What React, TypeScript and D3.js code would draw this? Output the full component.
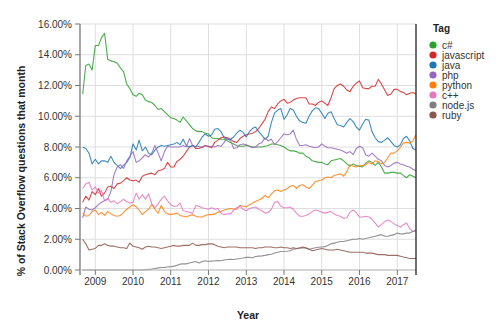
import React from 'react';
import * as d3 from 'd3';

const startMonth = '2008-09';
const tags = ['c#', 'javascript', 'java', 'php', 'python', 'c++', 'node.js', 'ruby'];
const tagColors = ['#2ca02c', '#d62728', '#1f77b4', '#9467bd', '#ff7f0e', '#e377c2', '#7f7f7f', '#8c564b'];
const yTicks = [0, 2, 4, 6, 8, 10, 12, 14, 16];
const xTickYears = [2009, 2010, 2011, 2012, 2013, 2014, 2015, 2016, 2017];

const csharp = [11.45, 13.3, 13.4, 13.0, 14.6, 14.6, 15.1, 15.4, 13.7, 13.6, 13.55, 13.45, 13.15, 12.9, 12.1, 11.8, 11.4, 11.3, 11.5, 11.4, 11.05, 10.95, 10.9, 10.7, 10.45, 10.5, 10.3,
  10.1, 9.9, 9.85, 9.75, 9.6, 9.95, 9.7, 9.45, 9.2, 9.05, 9.0, 9.0, 8.9, 8.85, 8.6, 8.55, 8.55, 8.5, 8.5, 8.4, 8.3, 8.2, 8.1, 8.05,
  8.05, 8.1, 8.05, 8.0, 8.0, 8.0, 8.0, 8.05, 8.1, 8.2, 8.2, 8.15, 8.1, 8.0, 7.85, 7.75, 7.75, 7.7, 7.6, 7.6, 7.4, 7.3, 7.1, 7.05, 7.0, 7.0, 6.9, 6.85, 7.1, 7.15, 7.2, 7.25, 7.1, 6.9, 6.75, 6.9, 6.8, 6.75, 6.7, 6.95, 7.1, 7.0, 6.8, 7.0, 6.7, 6.3, 6.3, 6.35, 6.35, 6.3, 6.3, 6.15, 6.0, 6.2, 6.1, 6.0];

const javascript = [4.4, 4.8, 4.55, 5.1, 4.9, 5.3, 4.8, 5.0, 5.4, 5.45, 5.3, 5.6, 5.65, 5.8, 6.0, 5.85, 5.8, 5.85, 5.7, 6.1, 6.2, 6.25, 6.3, 6.2, 6.45, 6.5, 6.6,
  7.0, 6.7, 6.7, 7.05, 7.2, 7.4, 7.7, 8.0, 8.1, 7.9, 7.9, 8.0, 8.1, 8.05, 7.95, 8.3, 8.45, 8.6, 8.65, 8.6, 8.5, 8.35, 8.3, 8.55,
  8.7, 8.8, 8.85, 8.9, 9.0, 9.2, 9.5, 9.8, 10.3, 10.6, 10.5, 10.8, 11.0, 11.1, 10.85, 10.9, 11.05, 11.15, 11.2, 11.2, 11.2, 10.8, 10.8, 10.7, 10.9, 11.0, 10.85, 10.7, 11.2, 11.8, 12.0, 12.1, 11.95, 11.7, 11.6, 11.95, 12.15, 12.3, 11.85, 11.8, 11.8, 11.95, 11.95, 12.4, 12.1, 11.7, 11.35, 11.45, 11.75, 11.75, 11.6, 11.55, 11.4, 11.5, 11.55, 11.45];

const java = [8.0, 7.9, 7.6, 6.9, 7.2, 6.9, 7.1, 7.1, 7.0, 7.4, 7.0, 6.8, 6.6, 6.8, 7.0, 7.3, 8.2, 7.8, 8.45, 7.75, 8.0, 7.6, 7.5, 7.8, 8.0, 8.1, 8.05,
  8.1, 8.15, 8.2, 8.3, 8.15, 8.5, 8.1, 8.0, 8.1, 8.0, 8.3, 8.65, 8.85, 8.7, 8.8, 9.15, 9.2, 9.0, 8.6, 8.5, 8.5, 8.65, 8.9, 9.1,
  8.95, 8.65, 9.0, 9.2, 9.3, 9.0, 8.75, 8.5, 8.7, 9.6, 10.2, 10.4, 10.5, 9.8, 10.1, 10.5, 10.4, 10.0, 9.7, 9.6, 9.55, 10.0, 10.35, 10.55, 10.5, 10.2, 9.85, 10.2, 10.3, 9.85, 9.45, 9.4, 9.3, 9.6, 9.85, 9.65, 9.3, 9.1, 9.5, 9.8, 9.75, 9.0, 8.6, 8.35, 8.3, 8.45, 8.6, 8.35, 8.1, 8.0, 8.15, 8.55, 8.7, 8.4, 7.9, 7.8];

const php = [3.4, 4.1, 3.95, 3.9, 4.05, 4.25, 4.4, 4.5, 4.6, 5.1, 6.2, 6.7, 6.85, 6.6, 7.1, 7.4, 7.7, 7.0, 7.1, 7.3, 7.5, 7.35, 7.6, 8.1, 7.6, 7.1, 7.7,
  8.05, 8.0, 8.0, 8.0, 8.0, 8.1, 8.0, 8.55, 8.1, 8.0, 8.05, 7.95, 8.1, 8.0, 8.05, 8.0, 8.1, 8.05, 8.3, 8.6, 8.4, 7.9, 7.95, 8.15,
  8.2, 8.15, 8.05, 7.95, 8.0, 8.2, 8.3, 8.6, 8.4, 8.5, 8.15, 8.35, 8.6, 8.85, 8.8, 8.85, 9.1, 8.5, 8.1, 8.1, 8.15, 8.05, 8.0, 7.95, 8.0, 8.2, 8.05, 7.95, 7.95, 7.9, 7.85, 7.8, 7.7, 7.6, 7.7, 7.5, 7.9, 8.05, 7.95, 7.5, 7.4, 7.6, 7.4, 7.2, 7.1, 6.8, 6.7, 6.8, 6.95, 7.0, 6.9, 6.85, 6.75, 6.7, 6.55, 6.45];

const python = [3.7, 3.5, 3.55, 3.8, 3.9, 3.6, 3.75, 3.55, 3.8, 3.65, 3.55, 3.5, 3.55, 3.75, 3.95, 4.1, 4.25, 4.1, 3.9, 3.6, 3.8, 3.95, 4.25, 3.95, 3.7, 4.2, 3.8,
  3.65, 3.6, 3.65, 3.7, 3.55, 3.5, 3.45, 3.55, 3.6, 3.5, 3.45, 3.45, 3.55, 3.6, 3.6, 3.65, 3.75, 3.8, 3.9, 3.95, 4.0, 3.95, 3.95, 4.2,
  4.15, 4.1, 4.25, 4.35, 4.45, 4.55, 4.65, 4.85, 4.7, 4.95, 5.15, 5.2, 5.1, 5.2, 5.3, 5.45, 5.5, 5.3, 5.5, 5.55, 5.4, 5.3, 5.5, 5.75, 5.8, 5.85, 6.0, 6.05, 6.0, 6.15, 6.2, 6.25, 6.1, 6.4, 6.85, 6.75, 6.7, 6.8, 6.8, 6.85, 7.0, 6.9, 7.1, 7.05, 6.9, 7.0, 7.3, 7.6, 7.6, 7.75, 8.0, 8.25, 8.3, 8.25, 8.4, 8.8];

const cpp = [5.3, 5.6, 5.7, 5.2, 5.4, 5.0, 5.2, 4.5, 4.65, 4.4, 4.5, 4.3, 4.45, 4.6, 4.45, 4.35, 4.4, 5.0, 4.6, 4.9, 4.6, 4.95, 4.3, 4.05, 4.3, 4.6, 4.8,
  4.5, 4.25, 4.15, 4.15, 4.35, 3.85, 3.8, 3.75, 3.7, 4.2, 4.15, 4.05, 4.0, 3.95, 4.05, 3.95, 4.0, 3.7, 3.6, 3.65, 3.65, 3.9, 4.05, 4.15,
  3.95, 3.85, 4.0, 4.05, 4.1, 3.95, 3.85, 3.7, 3.75, 3.95, 4.4, 4.45, 4.15, 4.05, 4.05, 4.1, 3.95, 3.7, 3.5, 3.5, 3.55, 3.65, 3.8, 3.9, 3.85, 3.75, 3.7, 3.75, 3.8, 3.65, 3.55, 3.5, 3.35, 3.4, 3.75, 3.9, 3.75, 3.45, 3.45, 3.5, 3.45, 3.3, 3.05, 2.8, 2.95, 3.15, 3.25, 3.15, 3.0, 2.9, 2.8, 2.95, 3.05, 2.7, 2.5, 2.55];

const nodejs = [0, 0, 0, 0, 0, 0, 0, 0, 0, 0, 0, 0, 0, 0, 0, 0, 0, 0, 0, 0.01, 0.02, 0.04, 0.06, 0.1, 0.14, 0.16, 0.17,
  0.2, 0.22, 0.25, 0.3, 0.38, 0.4, 0.4, 0.45, 0.5, 0.55, 0.45, 0.55, 0.6, 0.55, 0.58, 0.6, 0.62, 0.6, 0.65, 0.68, 0.7, 0.68, 0.72, 0.75,
  0.78, 0.82, 0.82, 0.8, 0.88, 0.9, 0.92, 0.95, 1.0, 1.02, 1.1, 1.15, 1.2, 1.2, 1.22, 1.25, 1.35, 1.38, 1.4, 1.45, 1.42, 1.35, 1.4, 1.45, 1.48, 1.5, 1.52, 1.6, 1.7, 1.75, 1.8, 1.85, 1.85, 1.9, 1.95, 2.0, 2.0, 2.05, 2.0, 2.05, 2.1, 2.15, 2.2, 2.25, 2.3, 2.2, 2.2, 2.25, 2.3, 2.4, 2.35, 2.35, 2.4, 2.4, 2.5, 2.6];

const ruby = [2.0, 1.7, 1.3, 1.35, 1.4, 1.6, 1.6, 1.7, 1.6, 1.55, 1.55, 1.5, 1.45, 1.45, 1.4, 1.75, 1.55, 1.5, 1.45, 1.35, 1.5, 1.55, 1.5, 1.5, 1.45, 1.4, 1.45,
  1.5, 1.55, 1.6, 1.55, 1.55, 1.6, 1.6, 1.6, 1.75, 1.6, 1.6, 1.65, 1.65, 1.7, 1.7, 1.65, 1.55, 1.5, 1.45, 1.5, 1.5, 1.5, 1.5, 1.45,
  1.45, 1.45, 1.45, 1.45, 1.4, 1.45, 1.45, 1.5, 1.5, 1.5, 1.45, 1.45, 1.5, 1.45, 1.45, 1.4, 1.45, 1.4, 1.45, 1.5, 1.45, 1.35, 1.25, 1.3, 1.35, 1.4, 1.35, 1.3, 1.3, 1.3, 1.35, 1.3, 1.25, 1.2, 1.15, 1.15, 1.15, 1.15, 1.15, 1.1, 1.1, 1.1, 1.05, 1.0, 1.0, 1.0, 0.95, 0.95, 0.95, 0.95, 0.9, 0.85, 0.8, 0.75, 0.75, 0.75];

const seriesValues = [csharp, javascript, java, php, python, cpp, nodejs, ruby];

const W = 500, H = 332;
const M = { left: 80, right: 416, top: 24, bottom: 270 };
const FONT = '"Liberation Sans", Arial, sans-serif';

export default function App() {
  const [sy, sm] = startMonth.split('-').map(Number);
  const n = csharp.length;
  const months = d3.range(n).map((i) => new Date(sy, sm - 1 + i, 1));

  const x = d3.scaleTime().domain([new Date(2008, 7, 6), new Date(2017, 6, 1)]).range([M.left, M.right]);
  const y = d3.scaleLinear().domain([0, 16]).range([M.bottom, M.top]);
  const line = d3.line<number>().x((_, i) => x(months[i])).y((d) => y(d));
  const fmt = d3.format('.2f');

  return (
    <svg width={W} height={H} style={{ position: 'absolute', left: 0, top: 0, background: '#fff' }} fontFamily={FONT}>
      {xTickYears.map((yr) => (
        <line key={'gx' + yr} x1={x(new Date(yr, 0, 1))} x2={x(new Date(yr, 0, 1))} y1={M.top} y2={M.bottom} stroke="#dedede" strokeWidth={1} />
      ))}
      {yTicks.map((t) => (
        <line key={'gy' + t} x1={M.left} x2={M.right} y1={y(t)} y2={y(t)} stroke="#dedede" strokeWidth={1} />
      ))}
      {seriesValues.map((vals, k) => (
        <path key={tags[k]} d={line(vals) || ''} fill="none" stroke={tagColors[k]} strokeWidth={1.1} strokeOpacity={0.85} strokeLinejoin="round" />
      ))}
      <line x1={M.left} x2={M.left} y1={M.top} y2={M.bottom + 5} stroke="#777" strokeWidth={1.3} />
      {yTicks.map((t) => (
        <g key={'yt' + t}>
          <line x1={M.left - 5} x2={M.left} y1={y(t)} y2={y(t)} stroke="#777" strokeWidth={1} />
          <text x={M.left - 8} y={y(t)} dy="0.35em" textAnchor="end" fontSize={10} fill="#333">{fmt(t) + '%'}</text>
        </g>
      ))}
      <line x1={M.left} x2={M.right} y1={M.bottom} y2={M.bottom} stroke="#bbb" strokeWidth={1} />
      {xTickYears.map((yr) => (
        <g key={'xt' + yr}>
          <line x1={x(new Date(yr, 0, 1))} x2={x(new Date(yr, 0, 1))} y1={M.bottom} y2={M.bottom + 5} stroke="#777" strokeWidth={1} />
          <text x={x(new Date(yr, 0, 1))} y={M.bottom + 15} textAnchor="middle" fontSize={10} fill="#333">{yr}</text>
        </g>
      ))}
      <line x1={M.right} x2={M.right} y1={M.top} y2={M.bottom + 5} stroke="#222" strokeWidth={1.3} />
      <text transform={`translate(21,171) rotate(-90)`} textAnchor="middle" dy="0.35em" fontSize={10.5} fontWeight="bold" fill="#222">% of Stack Overflow questions that month</text>
      <text x={248} y={315} textAnchor="middle" dy="0.35em" fontSize={10.5} fontWeight="bold" fill="#222">Year</text>
      <text x={433} y={28} dy="0.35em" fontSize={10} fontWeight="bold" fill="#222">Tag</text>
      {tags.map((t, k) => (
        <g key={'lg' + t}>
          <circle cx={433} cy={45 + k * 10} r={3.6} fill={tagColors[k]} />
          <text x={442} y={45 + k * 10} dy="0.35em" fontSize={10} fill="#333">{t}</text>
        </g>
      ))}
    </svg>
  );
}
